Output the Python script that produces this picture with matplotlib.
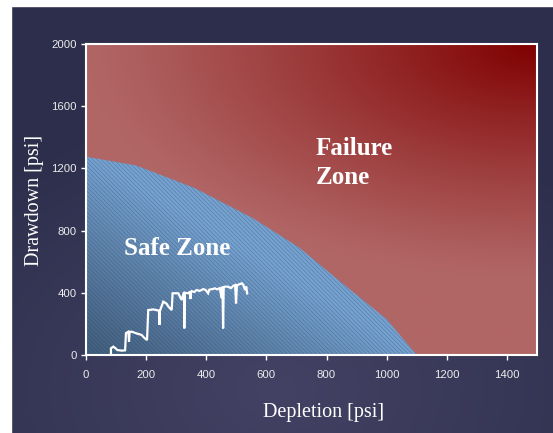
import numpy as np
import matplotlib
matplotlib.use("Agg")
import matplotlib.pyplot as plt
from matplotlib.patches import Polygon, Rectangle

# ---- data ----
bnd_x = [0, 165, 360, 555, 710, 825, 1000, 1100]
bnd_y = [1275, 1220, 1075, 880, 690, 505, 230, 0]

depl = [83, 83, 91, 100, 104, 119, 130, 133, 141, 143, 145, 152, 168, 185, 194, 203,
        207, 224, 243, 244, 246, 257, 268, 274, 285, 288, 301, 307, 318, 326, 327, 329,
        340, 346, 347, 349, 351, 360, 368, 378, 390, 398, 406, 410, 423, 429, 436, 445,
        451, 454, 456, 458, 465, 473, 482, 490, 496, 499, 502, 510, 518, 523, 529, 533, 536]
draw = [0, 43, 54, 40, 32, 28, 30, 141, 150, 86, 148, 150, 139, 129, 110, 96,
        289, 293, 285, 193, 284, 343, 330, 311, 289, 397, 397, 397, 354, 405, 171, 400,
        397, 407, 360, 405, 411, 405, 418, 412, 424, 418, 397, 420, 425, 429, 422, 430,
        365, 439, 171, 437, 440, 439, 430, 445, 450, 332, 448, 455, 461, 452, 418, 440, 396]

xticks = [0, 200, 400, 600, 800, 1000, 1200, 1400]
yticks = [0, 400, 800, 1200, 1600, 2000]

W, H = 553, 433
fig = plt.figure(figsize=(W / 100, H / 100), dpi=100)
fig.patch.set_facecolor("white")

# ---- figure background (navy gradient) ----
bg = fig.add_axes([0, 0, 1, 1], zorder=-10)
bg.set_axis_off()
gx, gy = np.meshgrid(np.linspace(0, 1, 300), np.linspace(0, 1, 240))
r = np.sqrt(((gx - 0.5) / 1.0) ** 2 + ((gy - 0.1) / 0.9) ** 2)
t = np.clip(1 - r / 0.75, 0, 1)
c_edge = np.array([45, 46, 76]) / 255
c_center = np.array([68, 66, 100]) / 255
img = c_edge[None, None, :] * (1 - t[..., None]) + c_center[None, None, :] * t[..., None]
bg.imshow(img, extent=[0, 1, 0, 1], origin="lower", aspect="auto")
bg.add_patch(Rectangle((0, 0), 10.5 / W, 1, color="white", transform=bg.transAxes, zorder=5))
bg.add_patch(Rectangle((0, 1 - 6 / H), 1, 6 / H, color="white", transform=bg.transAxes, zorder=5))
bg.set_xlim(0, 1)
bg.set_ylim(0, 1)

# ---- main axes ----
ax = fig.add_axes([86 / W, 1 - 355 / H, (537 - 86) / W, (355 - 44) / H])
ax.set_xlim(0, 1500)
ax.set_ylim(0, 2000)

# red gradient background
ux, vy = np.meshgrid(np.linspace(0, 1, 300), np.linspace(0, 1, 300))
d = np.sqrt((1 - ux) ** 2 + ((1 - vy) / 0.75) ** 2)
tr = np.clip(1 - d, 0, 1) ** 1.15
light = np.array([177, 102, 102]) / 255
dark = np.array([128, 0, 0]) / 255
rimg = light[None, None, :] * (1 - tr[..., None]) + dark[None, None, :] * tr[..., None]
ax.imshow(rimg, extent=[0, 1500, 0, 2000], origin="lower", aspect="auto", zorder=0)

# safe zone polygon with blue gradient
verts = list(zip(bnd_x, bnd_y)) + [(0, 0)]
poly = Polygon(verts, closed=True, facecolor="none", edgecolor="none", zorder=1)
ax.add_patch(poly)
bx, by = np.meshgrid(np.linspace(0, 1500, 300), np.linspace(0, 2000, 300))
tb = np.clip(bx / 1100 + by / 1275, 0, 1) ** 1.1
bdark = np.array([66, 94, 124]) / 255
blight = np.array([118, 162, 208]) / 255
bimg = bdark[None, None, :] * (1 - tb[..., None]) + blight[None, None, :] * tb[..., None]
im = ax.imshow(bimg, extent=[0, 1500, 0, 2000], origin="lower", aspect="auto", zorder=1)
im.set_clip_path(poly)
plt.rcParams["hatch.linewidth"] = 0.5
hatch = Polygon(verts, closed=True, facecolor="none", edgecolor=(0.15, 0.25, 0.4, 0.35),
                lw=0, hatch="\\\\\\\\\\\\\\\\", zorder=2)
ax.add_patch(hatch)

# data line
ax.plot(depl, draw, color="white", lw=1.6, zorder=4, solid_joinstyle="miter")

# texts
ax.text(303, 688, "Safe Zone", color="white", fontsize=18, fontweight="bold",
        family="Liberation Serif", ha="center", va="center", zorder=5)
ax.text(763, 1235, "Failure\nZone", color="white", fontsize=18, fontweight="bold",
        family="Liberation Serif", ha="left", va="center", zorder=5, linespacing=1.3)

ax.set_xticks(xticks)
ax.set_yticks(yticks)
for s in ax.spines.values():
    s.set_color("white")
    s.set_linewidth(1.5)
ax.tick_params(direction="out", length=3.5, width=1, color="white",
               labelcolor="#ececec", labelsize=8.2, pad=3)
for lab in ax.get_xticklabels() + ax.get_yticklabels():
    lab.set_family("Liberation Sans")
ax.tick_params(axis="x", pad=7)

fig.text(324 / W, 1 - 413 / H, "Depletion [psi]", color="white", fontsize=14.5,
         family="Liberation Serif", ha="center", va="center")
fig.text(34 / W, 1 - 200 / H, "Drawdown [psi]", color="white", fontsize=14.5,
         family="Liberation Serif", ha="center", va="center", rotation=90)

fig.savefig("out.png", dpi=100)
